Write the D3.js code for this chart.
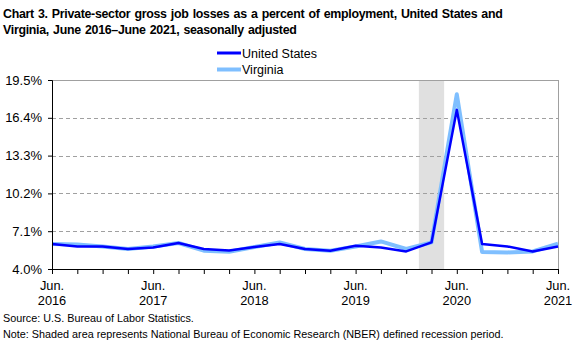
<!DOCTYPE html>
<html><head><meta charset="utf-8">
<script src="https://cdn.jsdelivr.net/npm/d3@7"></script>
<style>body{margin:0;background:#fff}svg{display:block}</style>
</head><body>
<script>
const quarters = ["Jun 2016","Sep 2016","Dec 2016","Mar 2017","Jun 2017","Sep 2017","Dec 2017","Mar 2018","Jun 2018","Sep 2018","Dec 2018","Mar 2019","Jun 2019","Sep 2019","Dec 2019","Mar 2020","Jun 2020","Sep 2020","Dec 2020","Mar 2021","Jun 2021"];
const usValues = [6.05,5.85,5.85,5.64,5.77,6.13,5.64,5.52,5.8,6.05,5.64,5.5,5.9,5.77,5.44,6.18,17.05,6.05,5.85,5.44,5.85];
const vaValues = [6.05,6.0,5.85,5.64,5.85,6.13,5.5,5.42,5.8,6.18,5.64,5.5,5.85,6.26,5.64,6.18,18.33,5.39,5.36,5.44,6.07];
const yTicks = [4.0,7.1,10.2,13.3,16.4,19.5];
const xTickLabels = [["Jun.","2016"],["Jun.","2017"],["Jun.","2018"],["Jun.","2019"],["Jun.","2020"],["Jun.","2021"]];
const recession = ["Mar 2020"];

const W=583,H=346;
const m={l:52,r:25,t:80,b:77};
const svg=d3.select("body").append("svg").attr("width",W).attr("height",H);
const x=d3.scaleLinear().domain([0,quarters.length-1]).range([m.l,W-m.r]);
const y=d3.scaleLinear().domain([4.0,19.5]).range([H-m.b,m.t]);
const font="'Liberation Sans', Arial, sans-serif";

// title
const title=svg.append("text").attr("font-family",font).attr("font-weight","bold").attr("font-size",12.4).attr("letter-spacing",-0.3).attr("word-spacing",1).attr("fill","#000");
title.append("tspan").attr("x",3).attr("y",18).text("Chart 3. Private-sector gross job losses as a percent of employment, United States and");
title.append("tspan").attr("x",3).attr("y",34).text("Virginia, June 2016–June 2021, seasonally adjusted");

// legend
const leg=[["United States","#0000ff",3],["Virginia","#7fbfff",4]];
leg.forEach((d,i)=>{
  const ly=53+i*16.5;
  svg.append("line").attr("x1",217).attr("x2",241).attr("y1",ly).attr("y2",ly).attr("stroke",d[1]).attr("stroke-width",d[2]);
  svg.append("text").attr("x",242).attr("y",ly+4.5).attr("font-family",font).attr("font-size",12.5).text(d[0]);
});

// recession shade
recession.forEach(q=>{
  const i=quarters.indexOf(q);
  const step=x(1)-x(0);
  svg.append("rect").attr("x",x(i)-step/2).attr("width",step).attr("y",m.t).attr("height",y(4)-m.t).attr("fill","#e0e0e0");
});

// gridlines
svg.append("g").selectAll("line").data(yTicks.filter(v=>v>4&&v<19.5)).join("line")
  .attr("x1",m.l).attr("x2",W-m.r).attr("y1",d=>Math.round(y(d))+0.5).attr("y2",d=>Math.round(y(d))+0.5)
  .attr("stroke","#a0a0a0").attr("stroke-dasharray","4,3").attr("stroke-width",1);
// top & right border
svg.append("line").attr("x1",m.l).attr("x2",W-m.r+0.5).attr("y1",Math.round(y(19.5))+0.5).attr("y2",Math.round(y(19.5))+0.5).attr("stroke","#a0a0a0");
svg.append("line").attr("x1",Math.round(W-m.r)+0.5).attr("x2",Math.round(W-m.r)+0.5).attr("y1",y(19.5)).attr("y2",y(4)).attr("stroke","#a0a0a0");

// lines
const line=(vals)=>d3.line().x((d,i)=>x(i)).y(d=>y(d))(vals);
svg.append("path").attr("d",line(vaValues)).attr("fill","none").attr("stroke","#7fbfff").attr("stroke-width",4).attr("stroke-linejoin","round");
svg.append("path").attr("d",line(usValues)).attr("fill","none").attr("stroke","#0000ff").attr("stroke-width",2.5).attr("stroke-linejoin","round");

// y axis
const ya=d3.axisLeft(y).tickValues(yTicks).tickSize(4).tickFormat(d=>d.toFixed(1)+"%");
const yg=svg.append("g").attr("transform",`translate(${m.l},0)`).call(ya);
yg.select(".domain").attr("stroke","#000");
yg.selectAll("text").attr("font-family",font).attr("font-size",13).attr("fill","#000").attr("dx","-3");

// x axis
const xa=d3.axisBottom(x).tickValues(d3.range(quarters.length)).tickSize(5).tickFormat("");
const xg=svg.append("g").attr("transform",`translate(0,${y(4)})`).call(xa);
xg.select(".domain").attr("stroke","#000");
xg.selectAll(".tick line").attr("stroke","#000");
xTickLabels.forEach((lbl,k)=>{
  const xi=x(k*4);
  const t=svg.append("text").attr("font-family",font).attr("font-size",12.8).attr("text-anchor","middle");
  t.append("tspan").attr("x",xi).attr("y",290).text(lbl[0]);
  t.append("tspan").attr("x",xi).attr("y",305).text(lbl[1]);
});

// notes
svg.append("text").attr("x",3).attr("y",322).attr("font-family",font).attr("font-size",10.8).text("Source: U.S. Bureau of Labor Statistics.");
svg.append("text").attr("x",3).attr("y",338).attr("font-family",font).attr("font-size",10.8).text("Note: Shaded area represents National Bureau of Economic Research (NBER) defined recession period.");
</script>
</body></html>
